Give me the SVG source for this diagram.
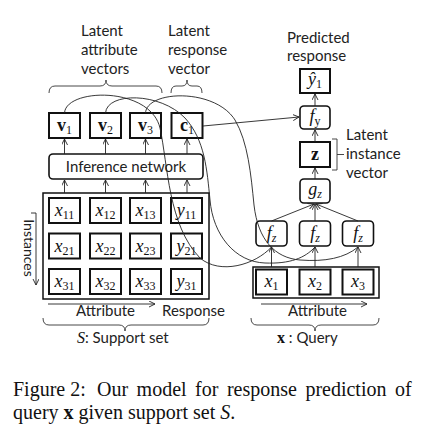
<svg xmlns="http://www.w3.org/2000/svg" width="434" height="435" viewBox="0 0 434 435">
<defs>
<marker id="ah" markerUnits="userSpaceOnUse" markerWidth="8" markerHeight="8" refX="6" refY="3" orient="auto">
<path d="M0,0 L6,3 L0,6" fill="none" stroke="#222" stroke-width="0.9"/>
</marker>
<style>
.lbl{font-family:Lato,"Open Sans",sans-serif;font-size:15px;fill:#222}
.m{font-family:"Liberation Serif",serif;font-size:18px;fill:#111}
.s{font-size:12px}
.i{font-style:italic}
.b{font-weight:bold}
.bx{fill:#fff;stroke:#111;stroke-width:2}
.rb{fill:#fff;stroke:#111;stroke-width:1.6}
.ob{fill:none;stroke:#111;stroke-width:1.5}
.br{fill:none;stroke:#333;stroke-width:0.9}
.c{fill:none;stroke:#222;stroke-width:0.9}
.a{fill:none;stroke:#222;stroke-width:0.9;marker-end:url(#ah)}
.cap{font-family:"Liberation Serif",serif;font-size:20px;fill:#111}
</style>
</defs>
<rect width="434" height="435" fill="#fff"/>

<!-- labels -->
<g id="label-attr">
<text class="lbl" x="81" y="36">Latent</text>
<text class="lbl" x="81" y="55">attribute</text>
<text class="lbl" x="81" y="74">vectors</text>
<path class="br" d="M49,93 Q49,86 55,86 L100,86 Q106,86 106,80 Q106,86 112,86 L156,86 Q162,86 162,93"/>
</g>
<g id="label-resp">
<text class="lbl" x="168" y="36">Latent</text>
<text class="lbl" x="168" y="55">response</text>
<text class="lbl" x="168" y="74">vector</text>
<path class="br" d="M171,93 Q171,86 176,86 L182,86 Q187,86 187,80 Q187,86 192,86 L197,86 Q202,86 202,93"/>
</g>
<g id="label-pred">
<text class="lbl" x="287" y="43">Predicted</text>
<text class="lbl" x="287" y="61">response</text>
</g>
<g id="label-inst">
<text class="lbl" x="346" y="140">Latent</text>
<text class="lbl" x="346" y="159">instance</text>
<text class="lbl" x="346" y="178">vector</text>
<path class="br" d="M332,139 L337,139 L337,170 L332,170 M337,154.5 L344,154.5"/>
</g>

<!-- latent vectors -->
<g id="v1"><rect class="bx" x="49" y="113" width="31" height="25"/><text class="m" x="64.5" y="131" text-anchor="middle"><tspan class="b">v</tspan><tspan class="s" dy="3">1</tspan></text></g>
<g id="v2"><rect class="bx" x="90" y="113" width="31" height="25"/><text class="m" x="105.5" y="131" text-anchor="middle"><tspan class="b">v</tspan><tspan class="s" dy="3">2</tspan></text></g>
<g id="v3"><rect class="bx" x="130" y="113" width="31" height="25"/><text class="m" x="145.5" y="131" text-anchor="middle"><tspan class="b">v</tspan><tspan class="s" dy="3">3</tspan></text></g>
<g id="c1"><rect class="bx" x="171.5" y="113" width="31" height="25"/><text class="m" x="187" y="131" text-anchor="middle"><tspan class="b">c</tspan><tspan class="s" dy="3">1</tspan></text></g>

<g id="inference"><rect class="rb" x="49" y="154" width="154" height="25" rx="4"/><text class="lbl" x="126" y="171.5" text-anchor="middle">Inference network</text></g>

<!-- support set -->
<g id="support">
<rect class="ob" x="43" y="193" width="166" height="106"/>
<g id="x11"><rect class="bx" x="49" y="198" width="31" height="25"/><text class="m" x="64.5" y="216" text-anchor="middle"><tspan class="i">x</tspan><tspan class="s" dy="3">11</tspan></text></g>
<g id="x12"><rect class="bx" x="90" y="198" width="31" height="25"/><text class="m" x="105.5" y="216" text-anchor="middle"><tspan class="i">x</tspan><tspan class="s" dy="3">12</tspan></text></g>
<g id="x13"><rect class="bx" x="130" y="198" width="31" height="25"/><text class="m" x="145.5" y="216" text-anchor="middle"><tspan class="i">x</tspan><tspan class="s" dy="3">13</tspan></text></g>
<g id="y11"><rect class="bx" x="171" y="198" width="31" height="25"/><text class="m" x="186.5" y="216" text-anchor="middle"><tspan class="i">y</tspan><tspan class="s" dy="3">11</tspan></text></g>
<g id="x21"><rect class="bx" x="49" y="233.5" width="31" height="25"/><text class="m" x="64.5" y="251.5" text-anchor="middle"><tspan class="i">x</tspan><tspan class="s" dy="3">21</tspan></text></g>
<g id="x22"><rect class="bx" x="90" y="233.5" width="31" height="25"/><text class="m" x="105.5" y="251.5" text-anchor="middle"><tspan class="i">x</tspan><tspan class="s" dy="3">22</tspan></text></g>
<g id="x23"><rect class="bx" x="130" y="233.5" width="31" height="25"/><text class="m" x="145.5" y="251.5" text-anchor="middle"><tspan class="i">x</tspan><tspan class="s" dy="3">23</tspan></text></g>
<g id="y21"><rect class="bx" x="171" y="233.5" width="31" height="25"/><text class="m" x="186.5" y="251.5" text-anchor="middle"><tspan class="i">y</tspan><tspan class="s" dy="3">21</tspan></text></g>
<g id="x31"><rect class="bx" x="49" y="269" width="31" height="25"/><text class="m" x="64.5" y="287" text-anchor="middle"><tspan class="i">x</tspan><tspan class="s" dy="3">31</tspan></text></g>
<g id="x32"><rect class="bx" x="90" y="269" width="31" height="25"/><text class="m" x="105.5" y="287" text-anchor="middle"><tspan class="i">x</tspan><tspan class="s" dy="3">32</tspan></text></g>
<g id="x33"><rect class="bx" x="130" y="269" width="31" height="25"/><text class="m" x="145.5" y="287" text-anchor="middle"><tspan class="i">x</tspan><tspan class="s" dy="3">33</tspan></text></g>
<g id="y31"><rect class="bx" x="171" y="269" width="31" height="25"/><text class="m" x="186.5" y="287" text-anchor="middle"><tspan class="i">y</tspan><tspan class="s" dy="3">31</tspan></text></g>
</g>
<g id="label-instances">
<text class="lbl" transform="translate(24,248) rotate(90)" text-anchor="middle" style="font-size:14px">Instances</text>
<path class="c" d="M31,213 L36,213"/>
<path class="a" d="M36,213 L36,285"/>
</g>
<g id="label-support">
<path class="a" d="M48,304 L155,304"/>
<text class="lbl" x="76" y="316">Attribute</text>
<text class="lbl" x="162" y="316">Response</text>
<path class="br" d="M43,318 Q43,325 49,325 L119,325 Q125,325 125,331 Q125,325 131,325 L203,325 Q209,325 209,318"/>
<text class="lbl" x="77" y="343"><tspan class="m i" style="font-size:16px">S</tspan>: Support set</text>
</g>

<!-- query -->
<g id="query">
<rect class="ob" x="253" y="267" width="126" height="31"/>
<g id="x1"><rect class="bx" x="256" y="269.5" width="31" height="25"/><text class="m" x="271.5" y="287" text-anchor="middle"><tspan class="i">x</tspan><tspan class="s" dy="3">1</tspan></text></g>
<g id="x2"><rect class="bx" x="299.5" y="269.5" width="31" height="25"/><text class="m" x="315" y="287" text-anchor="middle"><tspan class="i">x</tspan><tspan class="s" dy="3">2</tspan></text></g>
<g id="x3"><rect class="bx" x="342.5" y="269.5" width="31" height="25"/><text class="m" x="358" y="287" text-anchor="middle"><tspan class="i">x</tspan><tspan class="s" dy="3">3</tspan></text></g>
</g>
<g id="label-query">
<path class="a" d="M261,304 L367,304"/>
<text class="lbl" x="288" y="316">Attribute</text>
<path class="br" d="M251,318 Q251,325 257,325 L309,325 Q315,325 315,331 Q315,325 321,325 L373,325 Q379,325 379,318"/>
<text class="lbl" x="277" y="343"><tspan class="m b" style="font-size:16px">x</tspan> : Query</text>
</g>

<g id="fz1"><rect class="rb" x="256" y="221" width="31" height="25" rx="4"/><text class="m" x="271.5" y="239" text-anchor="middle"><tspan class="i">f</tspan><tspan class="s i" dy="3">z</tspan></text></g>
<g id="fz2"><rect class="rb" x="299.5" y="221" width="31" height="25" rx="4"/><text class="m" x="315" y="239" text-anchor="middle"><tspan class="i">f</tspan><tspan class="s i" dy="3">z</tspan></text></g>
<g id="fz3"><rect class="rb" x="342.5" y="221" width="31" height="25" rx="4"/><text class="m" x="358" y="239" text-anchor="middle"><tspan class="i">f</tspan><tspan class="s i" dy="3">z</tspan></text></g>
<g id="gz"><rect class="rb" x="300" y="179" width="30" height="24" rx="4"/><text class="m" x="315" y="195" text-anchor="middle"><tspan class="i">g</tspan><tspan class="s i" dy="3">z</tspan></text></g>
<g id="z"><rect class="bx" x="300" y="142" width="30" height="25"/><text class="m b" x="315" y="160" text-anchor="middle">z</text></g>
<g id="fy"><rect class="rb" x="300" y="106" width="30" height="23" rx="4"/><text class="m" x="315" y="122" text-anchor="middle"><tspan class="i">f</tspan><tspan class="s" dy="3">y</tspan></text></g>
<g id="yhat"><rect class="bx" x="300" y="69" width="30" height="24"/><text class="m" x="315" y="85" text-anchor="middle"><tspan class="i">ŷ</tspan><tspan class="s" dy="3">1</tspan></text></g>

<!-- connectors -->
<g id="connectors">
<path class="a" d="M64.5,154 L64.5,139"/>
<path class="a" d="M105.5,154 L105.5,139"/>
<path class="a" d="M145.5,154 L145.5,139"/>
<path class="a" d="M187,154 L187,139"/>
<path class="a" d="M64.5,193 L64.5,180"/>
<path class="a" d="M105.5,193 L105.5,180"/>
<path class="a" d="M145.5,193 L145.5,180"/>
<path class="a" d="M187,193 L187,180"/>
<path class="a" d="M203,126 L299,117"/>
<path class="a" d="M271.5,267 L271.5,247"/>
<path class="a" d="M315,267 L315,247"/>
<path class="a" d="M358,267 L358,247"/>
<path class="a" d="M271.5,221 L314,204"/>
<path class="a" d="M315,221 L315,204"/>
<path class="a" d="M358,221 L316,204"/>
<path class="a" d="M315,179 L315,168"/>
<path class="a" d="M315,142 L315,130"/>
<path class="a" d="M315,106 L315,94"/>
<path class="c" d="M64.5,113 C66,88 150,86 160,128 C168,165 168,225 200,258 C220,275 255,265 271.5,247"/>
<path class="c" d="M105.5,113 C107,92 160,92 185,118 C205,140 207,170 210,200 C213,235 235,262 265,263 C290,264 305,258 315,247"/>
<path class="c" d="M145.5,113 C147,90 215,88 235,120 C248,142 251,175 254,205 C258,240 275,258 300,260 C325,262 345,258 358,247"/>
</g>

<!-- caption -->
<g id="caption">
<text class="cap" x="13" y="396">Figure 2:<tspan x="97" word-spacing="3.5">Our model for response prediction of</tspan></text>
<text class="cap" x="13" y="419">query <tspan class="b">x</tspan> given support set <tspan class="i">S</tspan>.</text>
</g>
</svg>
